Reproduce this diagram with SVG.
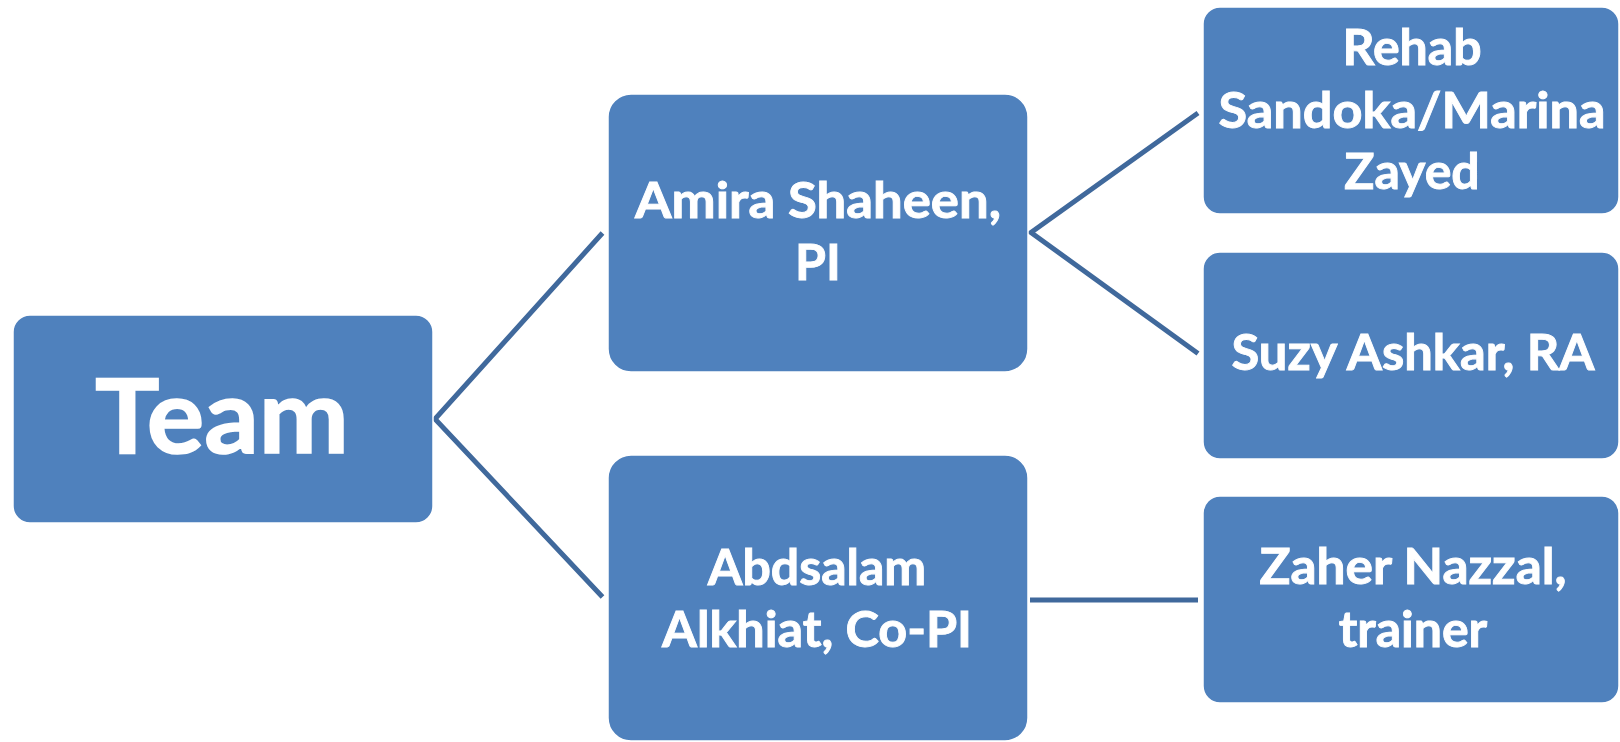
<svg xmlns="http://www.w3.org/2000/svg" width="1620" height="742" viewBox="0 0 1620 742">
<style>
.box{fill:#4f81bd;stroke:#ffffff;stroke-width:1.5}
.t{font-family:Lato,"Open Sans","Liberation Sans",sans-serif;font-weight:bold;fill:#ffffff;stroke:#ffffff;stroke-width:0.9;text-anchor:middle}
.s{font-size:50px}
.big{font-size:104px;stroke-width:1.6}
.c{fill:none;stroke:#40699c;stroke-width:5;stroke-linejoin:miter}
</style>
<rect width="1620" height="742" fill="#ffffff"/>
<g id="connectors">
<polyline class="c" points="602.5,233 435,419 602.5,597"/>
<polyline class="c" points="1198,113 1031,232.5 1198,353.5"/>
<line class="c" x1="1030" y1="600" x2="1198" y2="600"/>
</g>
<g id="team">
<rect class="box" x="13" y="315" width="420" height="208" rx="17"/>
<text class="t big" x="222" y="452.5" textLength="254" lengthAdjust="spacingAndGlyphs">Team</text>
</g>
<g id="amira">
<rect class="box" x="608" y="94" width="420" height="278" rx="23"/>
<text class="t s" x="818" y="217.5" textLength="366" lengthAdjust="spacingAndGlyphs">Amira Shaheen,</text>
<text class="t s" x="818" y="279.5">PI</text>
</g>
<g id="abdsalam">
<rect class="box" x="608" y="455" width="420" height="286" rx="23"/>
<text class="t s" x="817" y="585">Abdsalam</text>
<text class="t s" x="817" y="646.5" textLength="310" lengthAdjust="spacingAndGlyphs">Alkhiat, Co-PI</text>
</g>
<g id="rehab">
<rect class="box" x="1203" y="7" width="416" height="207" rx="17"/>
<text class="t s" x="1412" y="65">Rehab</text>
<text class="t s" x="1412" y="127.5" textLength="387" lengthAdjust="spacingAndGlyphs">Sandoka/Marina</text>
<text class="t s" x="1412" y="188.5">Zayed</text>
</g>
<g id="suzy">
<rect class="box" x="1203" y="252" width="416" height="207" rx="17"/>
<text class="t s" x="1413" y="370" textLength="363" lengthAdjust="spacingAndGlyphs">Suzy Ashkar, RA</text>
</g>
<g id="zaher">
<rect class="box" x="1203" y="496" width="416" height="207" rx="17"/>
<text class="t s" x="1413" y="583.5" textLength="307" lengthAdjust="spacingAndGlyphs">Zaher Nazzal,</text>
<text class="t s" x="1413" y="646.5">trainer</text>
</g>
</svg>
